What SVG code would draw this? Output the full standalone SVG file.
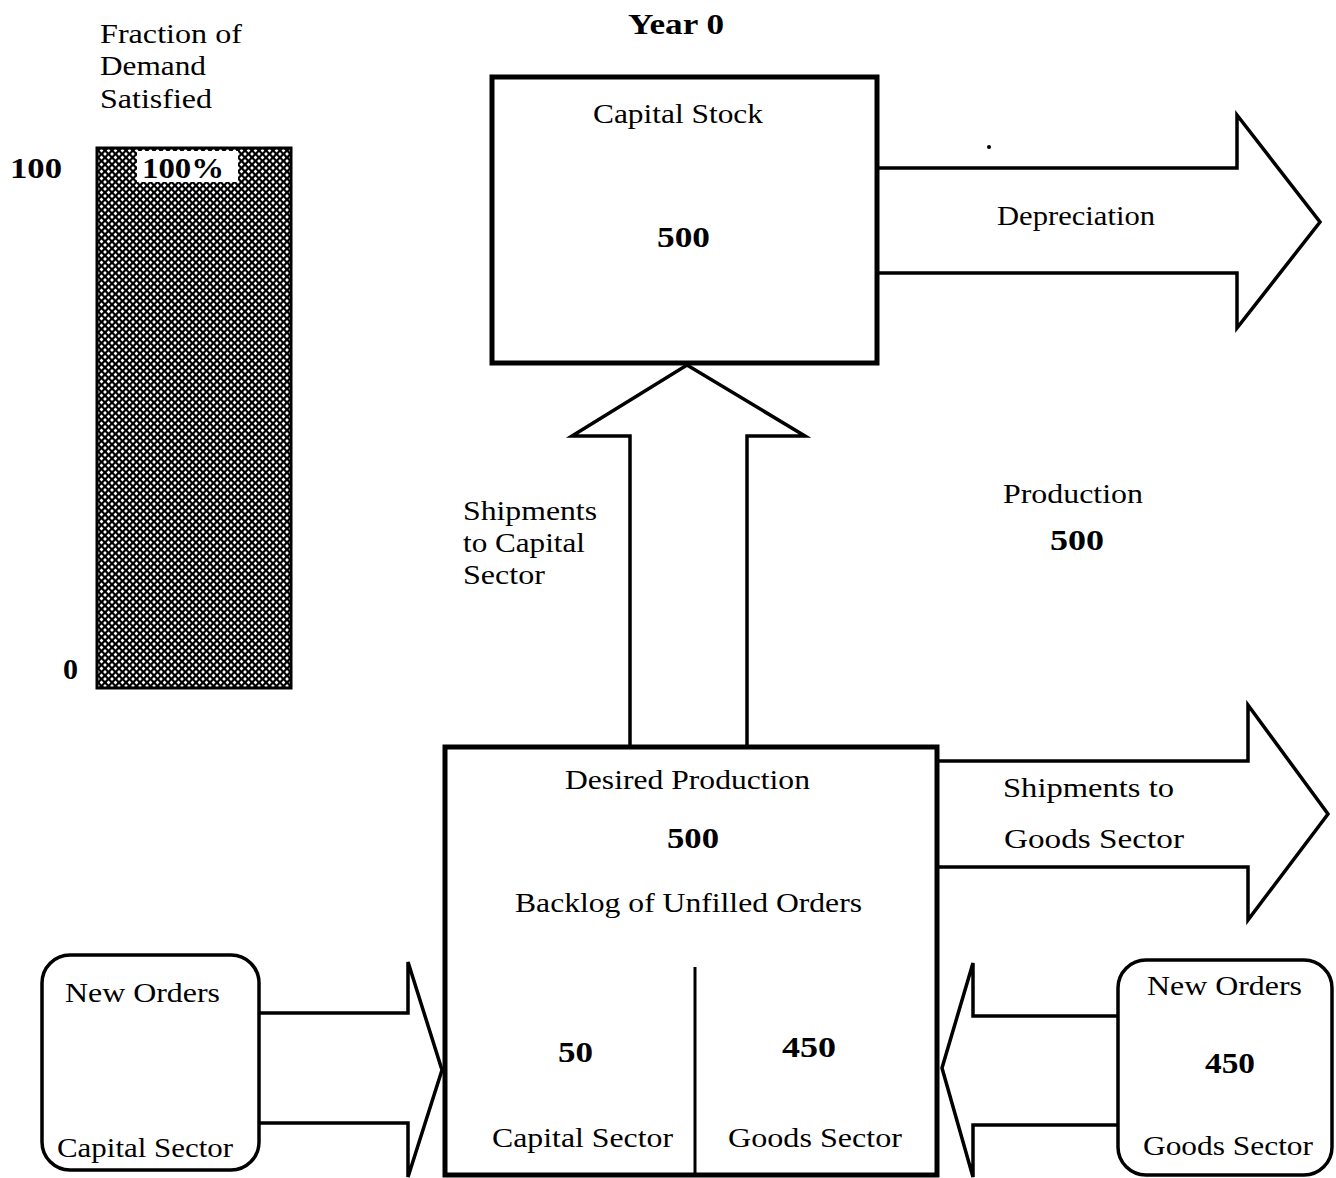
<svg xmlns="http://www.w3.org/2000/svg" width="1336" height="1178" viewBox="0 0 1336 1178">
<style>
text{font-family:"Liberation Serif","Times New Roman",serif;fill:#000}
.t{font-size:28px}
.b{font-size:30px;font-weight:bold}
.box{fill:#fff;stroke:#000;stroke-width:5}
.rbox{fill:#fff;stroke:#000;stroke-width:3.5}
.arr{fill:#fff;stroke:#000;stroke-width:3.5;stroke-linejoin:miter}
</style>
<defs>
<pattern id="hatch" width="7" height="7" patternUnits="userSpaceOnUse">
<rect width="7" height="7" fill="#000"/>
<polygon points="3.5,1.6 5.4,3.5 3.5,5.4 1.6,3.5" fill="#fff"/>
<polygon points="0,-1.9 1.9,0 0,1.9 -1.9,0" fill="#fff"/>
<polygon points="7,-1.9 8.9,0 7,1.9 5.1,0" fill="#fff"/>
<polygon points="0,5.1 1.9,7 0,8.9 -1.9,7" fill="#fff"/>
<polygon points="7,5.1 8.9,7 7,8.9 5.1,7" fill="#fff"/>
</pattern>
</defs>
<rect width="1336" height="1178" fill="#fff"/>

<g id="title">
<text class="b" x="628" y="34" textLength="96" lengthAdjust="spacingAndGlyphs">Year 0</text>
</g>

<g id="gauge">
<text class="t" x="100" y="43" textLength="142" lengthAdjust="spacingAndGlyphs">Fraction of</text>
<text class="t" x="100" y="75" textLength="106" lengthAdjust="spacingAndGlyphs">Demand</text>
<text class="t" x="100" y="108" textLength="112" lengthAdjust="spacingAndGlyphs">Satisfied</text>
<text class="b" x="10" y="178" textLength="52" lengthAdjust="spacingAndGlyphs">100</text>
<text class="b" x="63" y="679" textLength="15" lengthAdjust="spacingAndGlyphs">0</text>
<rect x="97" y="148" width="194" height="540" fill="url(#hatch)" stroke="#000" stroke-width="3"/>
<rect x="137" y="151" width="101" height="31" fill="#fff"/>
<text class="b" x="142" y="178" textLength="82" lengthAdjust="spacingAndGlyphs">100%</text>
</g>

<g id="connectors">
<path class="arr" d="M877,168 H1237 V115 L1320,222 L1237,328 V273 H877"/>
<path class="arr" d="M630,747 V436 H572 L687,365 L805,436 H747 V747"/>
<path class="arr" d="M937,761 H1248 V705 L1328,814 L1248,920 V867 H937"/>
<path class="arr" d="M259,1013 H408 V962 L442,1070 L408,1177 V1123 H259"/>
<path class="arr" d="M1118,1016 H973 V963 L942,1068 L973,1177 V1125 H1118"/>
<text class="t" x="997" y="225" textLength="158" lengthAdjust="spacingAndGlyphs">Depreciation</text>
<text class="t" x="463" y="520" textLength="134" lengthAdjust="spacingAndGlyphs">Shipments</text>
<text class="t" x="463" y="552" textLength="122" lengthAdjust="spacingAndGlyphs">to Capital</text>
<text class="t" x="463" y="584" textLength="82" lengthAdjust="spacingAndGlyphs">Sector</text>
<text class="t" x="1003" y="503" textLength="140" lengthAdjust="spacingAndGlyphs">Production</text>
<text class="b" x="1050" y="550" textLength="54" lengthAdjust="spacingAndGlyphs">500</text>
<text class="t" x="1003" y="797" textLength="171" lengthAdjust="spacingAndGlyphs">Shipments to</text>
<text class="t" x="1004" y="848" textLength="180" lengthAdjust="spacingAndGlyphs">Goods Sector</text>
<circle cx="989" cy="147" r="2" fill="#000"/>
</g>

<g id="capital-stock">
<rect class="box" x="492" y="77" width="385" height="286"/>
<text class="t" x="593" y="123" textLength="170" lengthAdjust="spacingAndGlyphs">Capital Stock</text>
<text class="b" x="657" y="247" textLength="53" lengthAdjust="spacingAndGlyphs">500</text>
</g>

<g id="backlog">
<rect class="box" x="445" y="747" width="492" height="428"/>
<line x1="695" y1="967" x2="695" y2="1175" stroke="#000" stroke-width="3"/>
<text class="t" x="565" y="789" textLength="245" lengthAdjust="spacingAndGlyphs">Desired Production</text>
<text class="b" x="667" y="848" textLength="52" lengthAdjust="spacingAndGlyphs">500</text>
<text class="t" x="515" y="912" textLength="347" lengthAdjust="spacingAndGlyphs">Backlog of Unfilled Orders</text>
<text class="b" x="558" y="1062" textLength="35" lengthAdjust="spacingAndGlyphs">50</text>
<text class="b" x="782" y="1057" textLength="54" lengthAdjust="spacingAndGlyphs">450</text>
<text class="t" x="492" y="1147" textLength="181" lengthAdjust="spacingAndGlyphs">Capital Sector</text>
<text class="t" x="728" y="1147" textLength="174" lengthAdjust="spacingAndGlyphs">Goods Sector</text>
</g>

<g id="new-orders-capital">
<rect class="rbox" x="42" y="955" width="217" height="215" rx="28"/>
<text class="t" x="65" y="1002" textLength="155" lengthAdjust="spacingAndGlyphs">New Orders</text>
<text class="t" x="57" y="1157" textLength="176" lengthAdjust="spacingAndGlyphs">Capital Sector</text>
</g>

<g id="new-orders-goods">
<rect class="rbox" x="1118" y="960" width="214" height="215" rx="28"/>
<text class="t" x="1147" y="995" textLength="155" lengthAdjust="spacingAndGlyphs">New Orders</text>
<text class="b" x="1205" y="1073" textLength="50" lengthAdjust="spacingAndGlyphs">450</text>
<text class="t" x="1143" y="1155" textLength="170" lengthAdjust="spacingAndGlyphs">Goods Sector</text>
</g>
</svg>
